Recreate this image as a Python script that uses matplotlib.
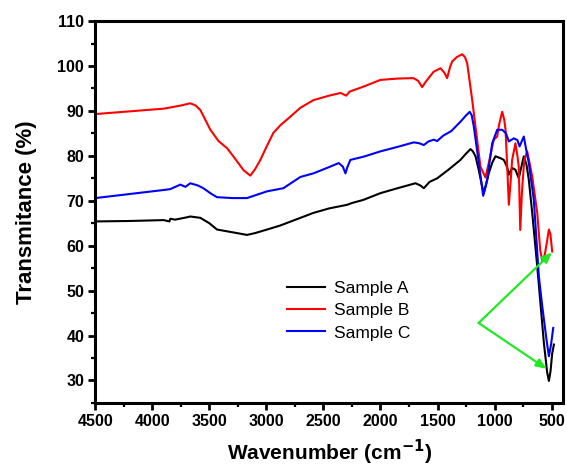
import matplotlib
matplotlib.use("Agg")
import matplotlib.pyplot as plt
from matplotlib.ticker import MultipleLocator

plt.rcParams['font.family'] = ['Liberation Sans', 'DejaVu Sans']

# Sample A (black)
wn_a = [4500, 4200, 3900, 3850, 3842, 3800, 3700, 3667, 3579, 3500, 3433, 3300, 3170, 3100,
        2994, 2878, 2702, 2588, 2450, 2293, 2250, 2150, 2000, 1850, 1693, 1650, 1620, 1570,
        1503, 1400, 1299, 1250, 1211, 1190, 1167, 1140, 1109, 1095, 1080, 1051, 1020, 992,
        950, 919, 890, 875, 846, 817, 788, 744, 720, 700, 670, 626, 568, 539, 524, 510, 495, 480]
t_a = [65.4, 65.5, 65.7, 65.4, 66.0, 65.8, 66.3, 66.5, 66.2, 65.0, 63.6, 63.0, 62.4, 62.8,
       63.6, 64.5, 66.2, 67.3, 68.3, 69.1, 69.5, 70.2, 71.7, 72.8, 73.9, 73.4, 72.8, 74.2,
       75.0, 77.0, 79.1, 80.5, 81.5, 81.0, 79.9, 77.0, 73.2, 71.7, 73.0, 76.1, 78.5, 79.9,
       79.5, 79.1, 77.5, 75.8, 77.3, 76.9, 75.0, 79.9, 78.0, 74.7, 67.3, 55.4, 38.4, 31.8, 29.9, 32.0, 36.0, 38.0]

# Sample B (red)
wn_b = [4500, 4200, 3900, 3750, 3667, 3620, 3579, 3491, 3420, 3345, 3290, 3200, 3141, 3100,
        3053, 2990, 2939, 2878, 2800, 2702, 2588, 2450, 2350, 2300, 2270, 2150, 2000, 1850,
        1711, 1670, 1635, 1600, 1535, 1474, 1440, 1416, 1390, 1372, 1330, 1284, 1260, 1240,
        1196, 1153, 1124, 1080, 1051, 1007, 977, 960, 933, 915, 904, 890, 875, 860, 846, 817,
        800, 788, 775, 760, 740, 714, 690, 670, 626, 600, 580, 560, 540, 524, 510, 495]
t_b = [89.3, 89.9, 90.5, 91.2, 91.7, 91.2, 90.2, 85.8, 83.3, 81.7, 79.9, 76.8, 75.6, 77.0,
       79.1, 82.5, 85.1, 86.8, 88.5, 90.7, 92.4, 93.4, 94.0, 93.4, 94.3, 95.4, 96.9, 97.2,
       97.3, 96.7, 95.3, 96.6, 98.7, 99.5, 98.5, 97.3, 99.8, 101.0, 102.0, 102.6, 102.0, 100.6,
       92.4, 83.6, 77.6, 75.2, 78.4, 83.6, 84.3, 87.0, 89.8, 88.0, 85.8, 78.0, 69.1, 74.0, 79.1, 82.8,
       80.0, 77.6, 63.5, 72.0, 79.0, 81.0, 78.0, 75.4, 67.3, 59.0, 56.5, 58.0, 61.0, 63.6, 62.5, 58.7]

# Sample C (blue)
wn_c = [4500, 4200, 3900, 3842, 3754, 3710, 3667, 3600, 3553, 3480, 3433, 3300, 3170, 3100,
        2994, 2851, 2702, 2588, 2450, 2366, 2330, 2307, 2290, 2264, 2150, 2000, 1850, 1708,
        1660, 1620, 1580, 1533, 1503, 1450, 1380, 1299, 1250, 1218, 1200, 1182, 1138, 1100,
        1065, 1021, 977, 933, 900, 875, 831, 800, 781, 744, 720, 700, 656, 612, 582, 545, 524, 505, 486]
t_c = [70.6, 71.5, 72.4, 72.6, 73.6, 73.1, 73.9, 73.4, 72.8, 71.5, 70.8, 70.6, 70.6, 71.2,
       72.1, 72.8, 75.3, 76.1, 77.5, 78.4, 77.6, 76.1, 77.5, 79.1, 79.8, 81.0, 82.0, 83.0,
       82.8, 82.4, 83.2, 83.6, 83.3, 84.5, 85.5, 87.6, 89.0, 89.8, 89.0, 86.5, 78.4, 71.1,
       74.7, 82.8, 85.8, 85.8, 85.0, 83.2, 83.9, 83.5, 82.1, 84.3, 81.0, 78.4, 70.2, 53.2, 46.5, 39.1, 35.4, 38.0, 41.7]

labels = ["Sample A", "Sample B", "Sample C"]
colors = ["black", "red", "blue"]

# arrow annotation (wavenumber, transmittance)
arrow_tail = (1140, 42.8)
arrow_heads = [(497, 58.5), (545, 32.6)]

fig = plt.figure(figsize=(5.67, 4.68), dpi=100)
ax = fig.add_axes([0.168, 0.139, 0.825, 0.816])

for wn, t, lab, c in zip([wn_a, wn_b, wn_c], [t_a, t_b, t_c], labels, colors):
    ax.plot(wn, t, color=c, lw=1.5, label=lab)

for head in arrow_heads:
    ax.annotate("", xy=head, xytext=arrow_tail,
                arrowprops=dict(arrowstyle="-|>,head_length=0.6,head_width=0.25",
                                color="#22e822", lw=1.6, shrinkA=0, shrinkB=0))

ax.set_xlim(4500, 400)
ax.set_ylim(25, 110)
ax.xaxis.set_major_locator(MultipleLocator(500))
ax.xaxis.set_minor_locator(MultipleLocator(250))
ax.yaxis.set_major_locator(MultipleLocator(10))
ax.yaxis.set_minor_locator(MultipleLocator(5))
ax.set_xticks(range(4500, 499, -500))
ax.set_yticks(range(30, 111, 10))

for s in ax.spines.values():
    s.set_linewidth(2.2)
ax.tick_params(which='major', direction='out', length=5, width=2, labelsize=11.5, pad=3)
ax.tick_params(which='minor', direction='out', length=3, width=1.6)
for lbl in ax.get_xticklabels() + ax.get_yticklabels():
    lbl.set_fontweight('bold')

ax.set_xlabel("Wavenumber (cm$^{\\mathbf{-1}}$)", fontsize=15, fontweight='bold', labelpad=6)
ax.set_ylabel("Transmitance (%)", fontsize=16, fontweight='bold', labelpad=15)

leg = ax.legend(loc='upper left', bbox_to_anchor=(0.395, 0.337), frameon=False,
                fontsize=12.5, handlelength=2.2, handletextpad=0.5, labelspacing=0.4,
                borderaxespad=0)

fig.savefig("out.png", dpi=100)
